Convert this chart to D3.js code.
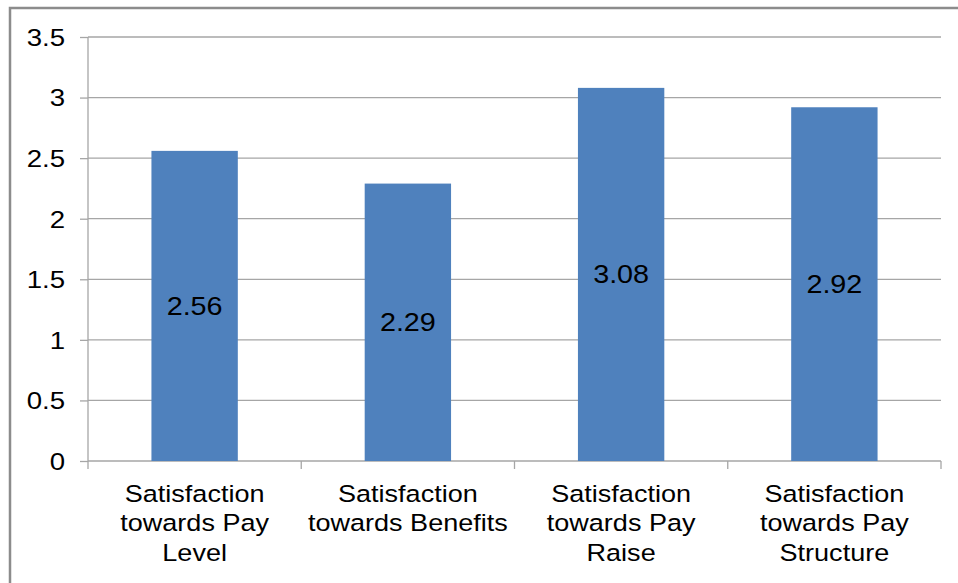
<!DOCTYPE html>
<html>
<head>
<meta charset="utf-8">
<script src="https://cdn.jsdelivr.net/npm/d3@7"></script>
<style>
  html, body { margin: 0; padding: 0; background: #fff; }
  svg { display: block; }
  text { font-family: "Liberation Sans", Arial, sans-serif; fill: #000; }
</style>
</head>
<body>
<svg id="chart" width="958" height="583"></svg>
<script>
// Pay satisfaction dimensions (mean scores)
const categories = [
  ["Satisfaction", "towards Pay", "Level"],
  ["Satisfaction", "towards Benefits"],
  ["Satisfaction", "towards Pay", "Raise"],
  ["Satisfaction", "towards Pay", "Structure"]
];
const values = [2.56, 2.29, 3.08, 2.92];
const yTicks = [0, 0.5, 1, 1.5, 2, 2.5, 3, 3.5];

const svg = d3.select("#chart");
const plot = { left: 88, right: 941, top: 37, bottom: 461 };
const stretch = 1.15; // glyphs are set slightly wide

// outer frame of the chart area
svg.append("rect")
  .attr("x", 10).attr("y", 8)
  .attr("width", 1000).attr("height", 1000)
  .attr("fill", "none")
  .attr("stroke", "#8c8c8c")
  .attr("stroke-width", 2.5);

const x = d3.scaleBand().domain(d3.range(categories.length)).range([plot.left, plot.right]).padding(0);
const y = d3.scaleLinear().domain([0, 3.5]).range([plot.bottom, plot.top]);

// horizontal gridlines
svg.append("g")
  .selectAll("line")
  .data(yTicks.filter(d => d > 0))
  .join("line")
  .attr("x1", plot.left).attr("x2", plot.right)
  .attr("y1", d => y(d)).attr("y2", d => y(d))
  .attr("stroke", "#a6a6a6").attr("stroke-width", 1.3);

// y axis
const yAxis = svg.append("g")
  .attr("transform", `translate(${plot.left},0)`)
  .call(d3.axisLeft(y).tickValues(yTicks).tickSize(8).tickPadding(0)
    .tickFormat(d => d3.format("")(d)));
yAxis.select(".domain").attr("stroke", "#a6a6a6").attr("stroke-width", 1.3)
  .attr("d", `M0,${plot.top}V${plot.bottom}`);
yAxis.selectAll(".tick line").attr("stroke", "#a6a6a6").attr("stroke-width", 1.3);
yAxis.selectAll(".tick text")
  .attr("x", null)
  .attr("font-size", 24)
  .attr("font-family", "Liberation Sans, Arial, sans-serif")
  .attr("fill", "#000")
  .attr("dy", "0.35em")
  .attr("transform", `translate(-23,0) scale(${stretch},1)`);

// x axis line with category separators
const xAxis = svg.append("g");
xAxis.append("line")
  .attr("x1", plot.left).attr("x2", plot.right)
  .attr("y1", plot.bottom).attr("y2", plot.bottom)
  .attr("stroke", "#a6a6a6").attr("stroke-width", 1.3);
const bounds = d3.range(categories.length + 1).map(i => i < categories.length ? x(i) : x(i - 1) + x.bandwidth());
xAxis.selectAll("line.sep")
  .data(bounds)
  .join("line")
  .attr("class", "sep")
  .attr("x1", d => d).attr("x2", d => d)
  .attr("y1", plot.bottom).attr("y2", plot.bottom + 8)
  .attr("stroke", "#a6a6a6").attr("stroke-width", 1.3);

// bars
const barW = x.bandwidth() * 0.405;
svg.append("g")
  .selectAll("rect")
  .data(values)
  .join("rect")
  .attr("x", (d, i) => x(i) + x.bandwidth() / 2 - barW / 2)
  .attr("y", d => y(d))
  .attr("width", barW)
  .attr("height", d => y(0) - y(d))
  .attr("fill", "#4f81bd");

// value labels centred in each bar
svg.append("g")
  .selectAll("text")
  .data(values)
  .join("text")
  .attr("transform", (d, i) => `translate(${x(i) + x.bandwidth() / 2},${y(d / 2)}) scale(${stretch},1)`)
  .attr("dy", "0.35em")
  .attr("text-anchor", "middle")
  .attr("font-size", 25)
  .text(d => d3.format(".2f")(d));

// category labels
const cat = svg.append("g")
  .selectAll("text")
  .data(categories)
  .join("text")
  .attr("transform", (d, i) => `translate(${x(i) + x.bandwidth() / 2},0) scale(${stretch},1)`)
  .attr("text-anchor", "middle")
  .attr("font-size", 23.5);
cat.selectAll("tspan")
  .data(d => d)
  .join("tspan")
  .attr("x", 0)
  .attr("y", (d, j) => 502 + j * 29.5)
  .text(d => d);
</script>
</body>
</html>
